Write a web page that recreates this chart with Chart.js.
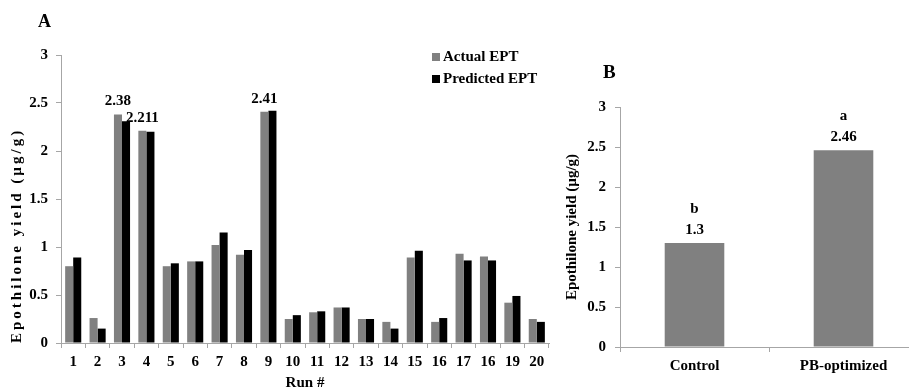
<!DOCTYPE html>
<html><head><meta charset="utf-8">
<script src="https://cdn.jsdelivr.net/npm/chart.js@4.4.1/dist/chart.umd.min.js"></script>
<style>
html,body{margin:0;padding:0;background:#fff;overflow:hidden;width:909px;height:389px;position:relative;}
#wa{position:absolute;left:0;top:0;width:560px;height:389px;}
#wb{position:absolute;left:540px;top:0;width:400px;height:389px;}
</style></head><body>
<div id="wa"><canvas id="ca"></canvas></div>
<div id="wb"><canvas id="cb"></canvas></div>
<script>
// ---- Panel A data ----
const runLabels = ['1','2','3','4','5','6','7','8','9','10','11','12','13','14','15','16','17','16','19','20'];
const actualEPT = [0.80,0.26,2.38,2.21,0.80,0.85,1.02,0.92,2.41,0.25,0.32,0.37,0.25,0.22,0.89,0.22,0.93,0.90,0.42,0.25];
const predictedEPT = [0.89,0.15,2.31,2.20,0.83,0.85,1.15,0.97,2.42,0.29,0.33,0.37,0.25,0.15,0.96,0.26,0.86,0.86,0.49,0.22];
const actualLabels = ['','','2.38','2.211','','','','','2.41','','','','','','','','','','',''];
const seriesNames = ['Actual EPT','Predicted EPT'];
const yTitle = 'Epothilone yield (µg/g)';
const xTitleA = 'Run #';
const yTickValues = [0, 0.5, 1, 1.5, 2, 2.5, 3];

// ---- Panel B data ----
const groupsB = ['Control','PB-optimized'];
const yieldB = [1.3, 2.46];
const valueLabelsB = ['1.3','2.46'];
const letterLabelsB = ['b','a'];

const FONT = "'Liberation Serif','Times New Roman',serif";
const AXIS = '#a6a6a6';
const GRAY = '#808080';
const BLACK = '#000000';

Chart.defaults.font.family = FONT;
Chart.defaults.font.weight = 'bold';
Chart.defaults.color = '#000';
Chart.defaults.animation = false;

function fmtTick(v) { return String(v); }
function fixTicks(s) { s.ticks = yTickValues.map(v => ({ value: v })); }

function spacedTitle(extra) {
  return {
    id: 'spacedTitle',
    afterLayout(chart) {
      const s = chart.scales.y;
      if (s._spaced) return;
      const orig = s.drawTitle;
      s.drawTitle = function () {
        const ctx = this.ctx;
        ctx.save();
        ctx.letterSpacing = extra;
        orig.apply(this, arguments);
        ctx.restore();
      };
      s._spaced = true;
    }
  };
}

const panelA = {
  id: 'panelA',
  afterDatasetsDraw(chart) {
    const ctx = chart.ctx;
    ctx.save();
    ctx.fillStyle = '#000';
    ctx.font = 'bold 15px ' + FONT;
    ctx.textAlign = 'center';
    ctx.textBaseline = 'middle';
    const meta = chart.getDatasetMeta(0);
    actualLabels.forEach((t, i) => {
      if (!t) return;
      const b = meta.data[i];
      ctx.fillText(t, b.x, b.y - 13);
    });
    // legend
    ctx.textAlign = 'left';
    chart.data.datasets.forEach((ds, i) => {
      const y = 57 + i * 22;
      ctx.fillStyle = ds.backgroundColor;
      ctx.fillRect(432, y - 4, 8, 8);
      ctx.fillStyle = '#000';
      ctx.fillText(ds.label, 443, y);
    });
    // panel letter
    ctx.font = 'bold 18px ' + FONT;
    ctx.textBaseline = 'alphabetic';
    ctx.fillText('A', 38, 27);
    ctx.restore();
  }
};

const panelB = {
  id: 'panelB',
  afterDatasetsDraw(chart) {
    const ctx = chart.ctx;
    ctx.save();
    ctx.fillStyle = '#000';
    ctx.font = 'bold 15px ' + FONT;
    ctx.textAlign = 'center';
    ctx.textBaseline = 'middle';
    const meta = chart.getDatasetMeta(0);
    meta.data.forEach((b, i) => {
      ctx.fillText(valueLabelsB[i], b.x, b.y - 13);
      ctx.fillText(letterLabelsB[i], b.x, b.y - 34);
    });
    ctx.font = 'bold 19px ' + FONT;
    ctx.textAlign = 'left';
    ctx.textBaseline = 'alphabetic';
    ctx.fillText('B', 63, 78);
    ctx.restore();
  }
};

new Chart(document.getElementById('ca'), {
  type: 'bar',
  data: {
    labels: runLabels,
    datasets: [
      { label: seriesNames[0], data: actualEPT, backgroundColor: GRAY, borderWidth: 0 },
      { label: seriesNames[1], data: predictedEPT, backgroundColor: BLACK, borderWidth: 0 }
    ]
  },
  options: {
    responsive: true,
    maintainAspectRatio: false,
    categoryPercentage: 0.66,
    barPercentage: 1,
    layout: { padding: { top: 55, right: 11, left: 0, bottom: 0 } },
    plugins: { legend: { display: false }, tooltip: { enabled: false } },
    scales: {
      x: {
        grid: { drawOnChartArea: false, drawTicks: true, tickLength: 5, color: AXIS },
        border: { color: AXIS, width: 1 },
        ticks: { font: { size: 15, weight: 'bold' }, padding: 5, color: '#000', autoSkip: false, maxRotation: 0 },
        title: { display: true, text: xTitleA, color: '#000', font: { size: 15, weight: 'bold', lineHeight: 0.8 }, padding: { top: 0, bottom: 0 } },
        afterFit(s) { s.height = 46; }
      },
      y: {
        min: 0, max: 3,
        afterBuildTicks: fixTicks,
        ticks: { font: { size: 15, weight: 'bold' }, padding: 8, color: '#000', callback: fmtTick },
        grid: { drawOnChartArea: false, drawTicks: true, tickLength: 5, color: AXIS },
        border: { color: AXIS, width: 1 },
        title: { display: true, text: yTitle, align: 'start', color: '#000', font: { size: 15, weight: 'bold', lineHeight: 1 }, padding: { top: 9.5, bottom: 0 } },
        afterFit(s) { s.width = 61; }
      }
    }
  },
  plugins: [panelA, spacedTitle('3px')]
});

new Chart(document.getElementById('cb'), {
  type: 'bar',
  data: {
    labels: groupsB,
    datasets: [{ label: 'Epothilone yield', data: yieldB, backgroundColor: GRAY, borderWidth: 0 }]
  },
  options: {
    responsive: true,
    maintainAspectRatio: false,
    categoryPercentage: 0.4,
    barPercentage: 1,
    layout: { padding: { top: 107, right: 22, left: 0, bottom: 0 } },
    plugins: { legend: { display: false }, tooltip: { enabled: false } },
    scales: {
      x: {
        grid: { drawOnChartArea: false, drawTicks: true, tickLength: 5, color: AXIS },
        border: { color: AXIS, width: 1 },
        ticks: { font: { size: 15, weight: 'bold' }, padding: 5, color: '#000', maxRotation: 0 },
        afterFit(s) { s.height = 42; }
      },
      y: {
        min: 0, max: 3,
        afterBuildTicks: fixTicks,
        ticks: { font: { size: 15, weight: 'bold' }, padding: 9, color: '#000', callback: fmtTick },
        grid: { drawOnChartArea: false, drawTicks: true, tickLength: 5, color: AXIS },
        border: { color: AXIS, width: 1 },
        title: { display: true, text: yTitle, color: '#000', font: { size: 15, weight: 'bold', lineHeight: 1 }, padding: { top: 24.5, bottom: 0 } },
        afterFit(s) { s.width = 80; }
      }
    }
  },
  plugins: [panelB]
});
</script>
</body></html>
